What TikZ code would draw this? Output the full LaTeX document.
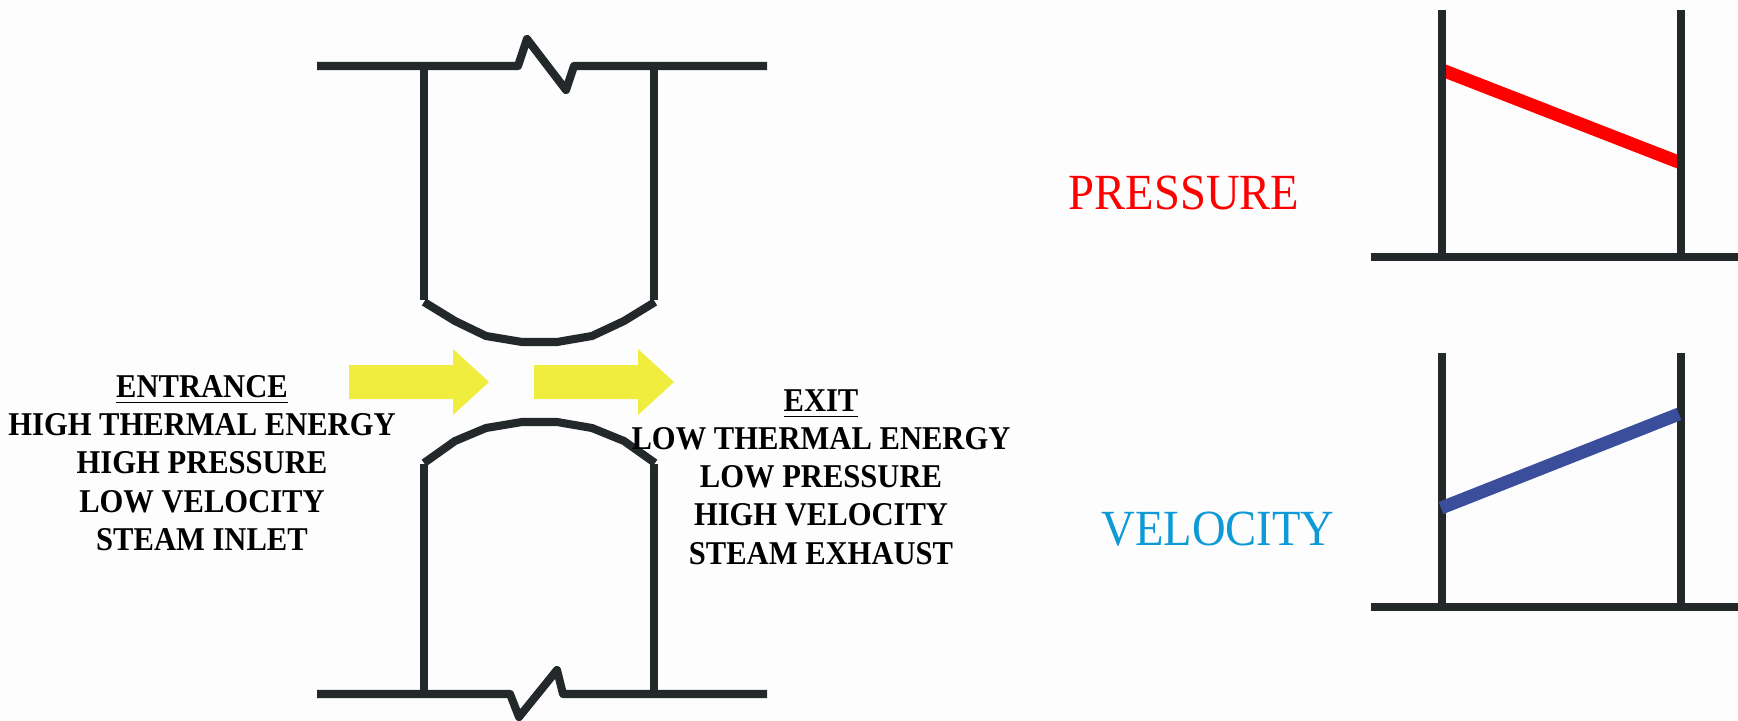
\documentclass[tikz,border=0pt]{standalone}
\usepackage{xcolor}
\usepackage{fontspec}
\setmainfont[FakeStretch=0.92]{Liberation Serif}
\definecolor{wallgray}{RGB}{35,40,43}
\definecolor{flowyellow}{RGB}{240,237,63}
\definecolor{velblue}{RGB}{58,78,155}
\definecolor{labelblue}{RGB}{14,154,214}
\definecolor{pagewhite}{RGB}{253,253,253}

\begin{document}
\begin{tikzpicture}[
  x = 0.01cm, y = -0.01cm,
  wall/.style = {draw=wallgray, line width=2.3pt, line join=round},
  plot axis/.style = {draw=wallgray, line width=2.3pt},
  trend/.style = {line width=3.7pt},
  state text/.style = {align=center, inner sep=0pt, text=black, font=\fontsize{9.45}{10.86}\selectfont\bfseries},
  plot title/.style = {anchor=base, inner sep=0pt, font=\fontsize{14.4}{16}\selectfont}
]
  \fill[pagewhite] (0,0) rectangle (1738,721);
  \useasboundingbox (0,0) rectangle (1738,721);

  % upper blade
  \draw[wall] (317,66) -- (518,66) -- (527,39) -- (566,90) -- (574,66) -- (767,66);
  \draw[wall] (424,66) -- (424,300);
  \draw[wall] (654,66) -- (654,300);
  \draw[wall] (424,302) -- (455,321) -- (486,336) -- (522,342) -- (557,342) -- (592,336) -- (624,321) -- (655,302);

  % lower blade
  \draw[wall] (424,463) -- (455,441) -- (486,428) -- (522,422) -- (557,422) -- (592,428) -- (624,441) -- (655,463);
  \draw[wall] (424,464) -- (424,694);
  \draw[wall] (654,464) -- (654,694);
  \draw[wall] (317,694) -- (510,694) -- (519,717) -- (557,670) -- (563,694) -- (767,694);

  % flow arrows
  \foreach \tailx in {349,534}
    \fill[flowyellow] (\tailx,365) -- ++(104,0) -- ++(0,-16) -- ++(36,33) -- ++(-36,33) -- ++(0,-16) -- ++(-104,0) -- cycle;

  \node[state text] (entrance) at (202,463) {\underline{ENTRANCE}\\HIGH THERMAL ENERGY\\HIGH PRESSURE\\LOW VELOCITY\\STEAM INLET};
  \node[state text] (exit) at (821,477) {\underline{EXIT}\\LOW THERMAL ENERGY\\LOW PRESSURE\\HIGH VELOCITY\\STEAM EXHAUST};

  % pressure plot
  \draw[red, trend] (1442,70) -- (1681,163);
  \draw[plot axis] (1442,10) -- (1442,257);
  \draw[plot axis] (1681,10) -- (1681,257);
  \draw[plot axis] (1371,257) -- (1738,257);
  \node[plot title, red] (pressure) at (1184,209) {PRESSURE};

  % velocity plot
  \draw[plot axis] (1442,353) -- (1442,607);
  \draw[plot axis] (1681,353) -- (1681,607);
  \draw[plot axis] (1371,607) -- (1738,607);
  \draw[velblue, trend] (1441,508) -- (1679,414);
  \node[plot title, labelblue] (velocity) at (1218,545) {VELOCITY};
\end{tikzpicture}
\end{document}
